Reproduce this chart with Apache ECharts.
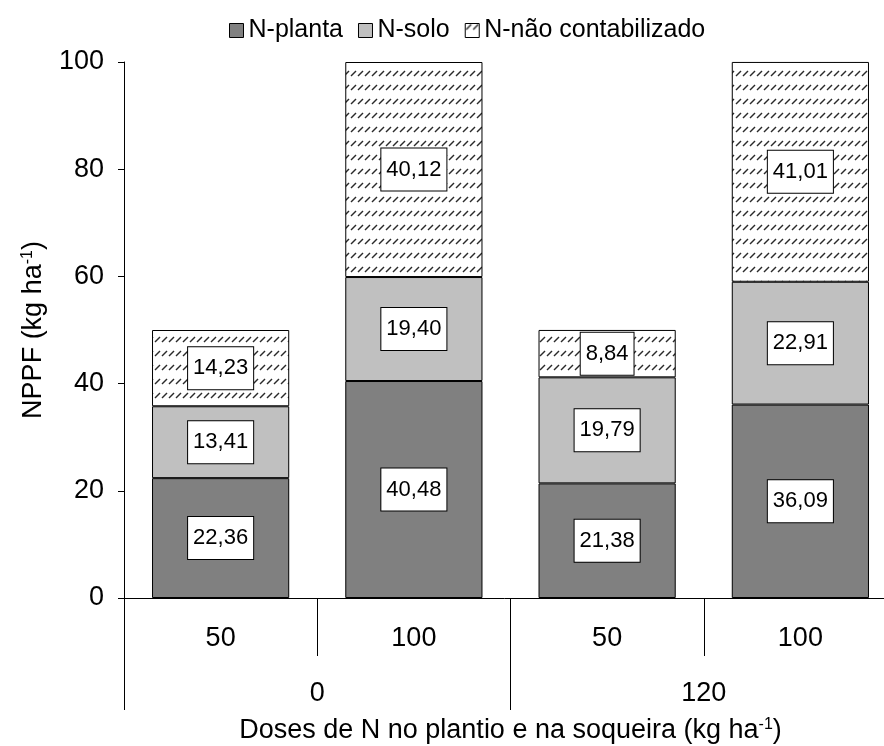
<!DOCTYPE html>
<html>
<head>
<meta charset="utf-8">
<script src="https://cdn.jsdelivr.net/npm/echarts@6/dist/echarts.min.js"></script>
<style>html,body{margin:0;padding:0;background:#fff}#c{width:884px;height:746px}</style>
</head>
<body>
<div id="c"></div>
<script>
var doseSoqueira = ['50', '100', '50', '100'];
var dosePlantio = ['0', '120'];
var seriesNames = ['N-planta', 'N-solo', 'N-não contabilizado'];
var nPlanta = [22.36, 40.48, 21.38, 36.09];
var nSolo = [13.41, 19.40, 19.79, 22.91];
var nNaoContab = [14.23, 40.12, 8.84, 41.01];
var yTicks = [0, 20, 40, 60, 80, 100];

function makeHatch() {
  var c = document.createElement('canvas');
  c.width = 7; c.height = 14;
  var g = c.getContext('2d');
  g.fillStyle = '#fff';
  g.fillRect(0, 0, 7, 14);
  g.strokeStyle = '#2a2a2a';
  g.lineWidth = 1.4;
  g.beginPath();
  g.moveTo(1, 6);
  g.lineTo(6, 1);
  g.stroke();
  return c;
}
var hatch = { image: makeHatch(), repeat: 'repeat' };

var chart = echarts.init(document.getElementById('c'), null, { renderer: 'canvas' });
var fontFam = 'Liberation Sans, Arial, sans-serif';

function fmt(p) { return p.value.toFixed(2).replace('.', ','); }
var labelCfg = {
  show: true, position: 'inside', formatter: fmt,
  backgroundColor: '#fff', borderColor: '#000', borderWidth: 1,
  padding: [10, 5, 10, 5], color: '#000', fontSize: 22, fontFamily: fontFam
};
function mk(name, data, color) {
  return {
    name: name, type: 'bar', stack: 'total', data: data, barWidth: '71%',
    xAxisIndex: 0,
    itemStyle: { color: color, borderColor: '#000', borderWidth: 1 },
    label: labelCfg
  };
}
var supRich = {
  a: { fontSize: 27, color: '#000', fontFamily: fontFam },
  s: { fontSize: 16, color: '#000', fontFamily: fontFam, verticalAlign: 'top', padding: [0, 0, 12, 0] }
};

chart.setOption({
  animation: false,
  textStyle: { fontFamily: fontFam },
  legend: {
    top: 13, left: 224, itemWidth: 14, itemHeight: 14, itemGap: 15,
    textStyle: { fontSize: 25, color: '#000', fontFamily: fontFam, padding: [0, 0, 0, 0] },
    itemStyle: { borderColor: '#000', borderWidth: 1 },
    data: seriesNames.map(function (n) { return { name: n, icon: 'rect' }; })
  },
  grid: { left: 124, width: 773, top: 62, height: 536, outerBoundsMode: 'none', containLabel: false },
  xAxis: [
    {
      type: 'category', data: doseSoqueira, position: 'bottom',
      axisLine: { show: true, lineStyle: { color: '#000', width: 1 } },
      axisTick: { show: true, interval: 0, length: 58, lineStyle: { color: '#000' } },
      axisLabel: { interval: 0, margin: 27, fontSize: 27, color: '#000', fontFamily: fontFam }
    },
    {
      type: 'category', data: dosePlantio, position: 'bottom',
      axisLine: { show: false },
      axisTick: { show: true, interval: 0, length: 112, lineStyle: { color: '#000' } },
      axisLabel: { interval: 0, margin: 82, fontSize: 27, color: '#000', fontFamily: fontFam },
      name: '{a|Doses de N no plantio e na soqueira (kg ha}{s|-1}{a|)}',
      nameLocation: 'middle', nameGap: 119,
      nameTextStyle: { rich: supRich }
    }
  ],
  yAxis: {
    type: 'value', min: yTicks[0], max: yTicks[yTicks.length - 1], interval: 20,
    splitLine: { show: false },
    axisLine: { show: true, lineStyle: { color: '#000', width: 1 } },
    axisTick: { show: true, length: 6, lineStyle: { color: '#000' } },
    axisLabel: { fontSize: 27, color: '#000', margin: 20, fontFamily: fontFam },
    name: '{a|NPPF (kg ha}{s|-1}{a|)}',
    nameLocation: 'middle', nameGap: 76, nameRotate: 90,
    nameTextStyle: { rich: supRich }
  },
  series: [
    mk(seriesNames[0], nPlanta, '#808080'),
    mk(seriesNames[1], nSolo, '#c0c0c0'),
    mk(seriesNames[2], nNaoContab, hatch)
  ]
});
</script>
</body>
</html>
